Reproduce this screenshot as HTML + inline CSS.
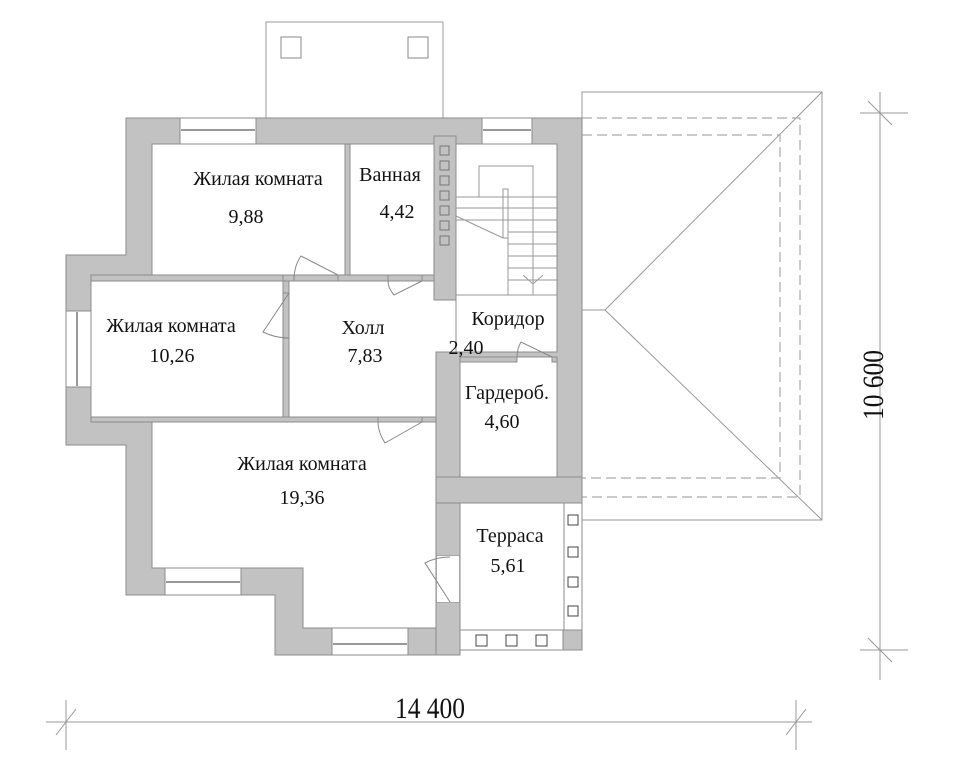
<!DOCTYPE html>
<html><head><meta charset="utf-8"><style>
html,body{margin:0;padding:0;background:#fff;}
svg{display:block;}
text{font-family:"Liberation Serif",serif;fill:#111;}
</style></head><body>
<svg width="960" height="768" viewBox="0 0 960 768" xmlns="http://www.w3.org/2000/svg">
<!-- top balcony box -->
<rect x="266" y="22" width="177" height="96" fill="#fff" stroke="#999" stroke-width="1"/>
<rect x="281" y="37" width="20" height="21" fill="none" stroke="#888"/>
<rect x="408" y="37" width="20" height="21" fill="none" stroke="#888"/>

<!-- roof -->
<g stroke="#999" stroke-width="1" fill="none">
<rect x="582" y="92" width="240" height="428" fill="#fff"/>
<line x1="822" y1="92" x2="605" y2="310"/>
<line x1="822" y1="520" x2="605" y2="310"/>
<line x1="582" y1="310" x2="605" y2="310"/>
</g>
<g stroke="#aaa" stroke-width="1.2" fill="none" stroke-dasharray="10,5">
<polyline points="582,118 800,118 800,497 582,497"/>
<polyline points="582,135 780,135 780,478 582,478"/>
</g>

<g fill="#c2c2c2" stroke="#8c8c8c" stroke-width="1">
<path d="M126,118 H582 V500 H563 V630 H582 V650 H563 V630 H460 V655 H275 V595 H126 V445 H66 V255 H126 Z"/>
</g>
<!-- terrace column strip / bottom band -->
<g fill="#fff" stroke="#8c8c8c" stroke-width="1">
<rect x="563" y="503" width="19" height="127"/>
<rect x="460" y="630" width="103" height="20"/>
</g>
<rect x="563" y="630" width="19" height="20" fill="#c2c2c2" stroke="#8c8c8c"/>
<!-- rooms (white) -->
<g fill="#fff" stroke="#8c8c8c" stroke-width="1">
<rect x="152" y="144" width="193" height="131"/>
<rect x="350" y="144" width="84" height="131"/>
<rect x="456" y="144" width="101" height="208"/>
<rect x="91" y="281" width="192" height="136"/>
<path d="M289,281 H436 V300 H456 V352 H436 V417 H289 Z"/>
<rect x="456" y="357" width="101" height="120"/>
<path d="M152,422 H436 V628 H303 V568 H152 Z"/>
<rect x="460" y="503" width="104" height="127"/>
</g>
<!-- thin interior walls -->
<g fill="#c2c2c2" stroke="#8c8c8c" stroke-width="1">
<rect x="91" y="275" width="192" height="6"/>
<rect x="283" y="275" width="11" height="6"/>
<rect x="283" y="281" width="6" height="12"/>
<rect x="283" y="338" width="6" height="84"/>
<rect x="338" y="275" width="50" height="6"/>
<rect x="345" y="144" width="5" height="131"/>
<rect x="422" y="275" width="14" height="6"/>
<rect x="91" y="417" width="287" height="5"/>
<rect x="422" y="417" width="14" height="5"/>
<rect x="456" y="357" width="61" height="5"/>
<rect x="552" y="357" width="5" height="5"/>
<rect x="436" y="352" width="24" height="204"/>
<rect x="436" y="602" width="24" height="53"/>
<rect x="436" y="477" width="146" height="26"/>
<rect x="434" y="136" width="22" height="164"/>
</g>
<rect x="437" y="556" width="22" height="46" fill="#fff"/>
<!-- vent squares -->
<g fill="none" stroke="#777" stroke-width="1">
<rect x="440" y="146" width="9" height="9"/><rect x="440" y="161" width="9" height="9"/>
<rect x="440" y="176" width="9" height="9"/><rect x="440" y="191" width="9" height="9"/>
<rect x="440" y="206" width="9" height="9"/><rect x="440" y="221" width="9" height="9"/>
<rect x="440" y="236" width="9" height="9"/>
</g>
<!-- stairs -->
<g stroke="#999" stroke-width="1" fill="none">
<polyline points="479,197 479,166 533,166 533,295"/>
<line x1="456" y1="295" x2="557" y2="295"/>
<line x1="456" y1="197" x2="557" y2="197"/>
<line x1="456" y1="208" x2="557" y2="208"/>
<line x1="456" y1="220" x2="557" y2="220"/>
<line x1="508" y1="232" x2="557" y2="232"/>
<line x1="508" y1="244" x2="557" y2="244"/>
<line x1="508" y1="256" x2="557" y2="256"/>
<line x1="508" y1="268" x2="557" y2="268"/>
<line x1="508" y1="280" x2="557" y2="280"/>
<line x1="456" y1="216" x2="503" y2="238"/>
<rect x="503" y="189" width="5" height="49"/>
<polyline points="523,275 533,284 543,275"/>
<line x1="508" y1="238" x2="508" y2="295"/>
</g>
<!-- windows -->
<g fill="#fff" stroke="#8c8c8c" stroke-width="1">
<rect x="180" y="118" width="76" height="26"/>
<rect x="482" y="118" width="50" height="26"/>
<rect x="66" y="311" width="25" height="76"/>
<rect x="165" y="568" width="76" height="27"/>
<rect x="332" y="628" width="76" height="27"/>
</g>
<g stroke="#999" stroke-width="2" fill="none">
<line x1="181" y1="130" x2="255" y2="130"/>
<line x1="483" y1="130" x2="531" y2="130"/>
<line x1="77" y1="312" x2="77" y2="386"/>
<line x1="166" y1="582" x2="240" y2="582"/>
<line x1="333" y1="644" x2="407" y2="644"/>
</g>
<!-- terrace columns -->
<g fill="#fff" stroke="#444" stroke-width="1">
<rect x="568" y="515" width="10" height="10"/>
<rect x="568" y="547" width="10" height="10"/>
<rect x="568" y="577" width="10" height="10"/>
<rect x="568" y="606" width="10" height="10"/>
<rect x="476" y="635" width="11" height="11"/>
<rect x="506" y="635" width="11" height="11"/>
<rect x="536" y="635" width="11" height="11"/>
</g>
<!-- doors -->
<g stroke="#888" stroke-width="1" fill="none">
<path d="M338,275 L301,256 Q294,266 294,280"/>
<path d="M289,293 L263,332 Q275,338 289,338"/>
<path d="M422,281 L394,295 Q388,288 388,281"/>
<path d="M422,422 L385,443 Q378,432 378,422"/>
<path d="M552,357 L521,342 Q517,349 517,357"/>
<path d="M450,602 L425,563 Q436,557 450,557"/>
</g>
<!-- labels -->
<g font-size="20" text-anchor="middle">
<text x="258" y="185">Жилая комната</text>
<text x="246" y="223">9,88</text>
<text x="390" y="181">Ванная</text>
<text x="397" y="218">4,42</text>
<text x="171" y="332">Жилая комната</text>
<text x="172" y="362">10,26</text>
<text x="363" y="334">Холл</text>
<text x="365" y="362">7,83</text>
<text x="508" y="325">Коридор</text>
<text x="466" y="354">2,40</text>
<text x="507" y="399">Гардероб.</text>
<text x="502" y="428">4,60</text>
<text x="302" y="470">Жилая комната</text>
<text x="302" y="504">19,36</text>
<text x="510" y="542">Терраса</text>
<text x="508" y="572">5,61</text>
</g>
<!-- dimensions -->
<g stroke="#999" stroke-width="1" fill="none">
<line x1="46" y1="722" x2="812" y2="722"/>
<line x1="66" y1="700" x2="66" y2="750"/>
<line x1="796" y1="700" x2="796" y2="750"/>
<line x1="56" y1="735" x2="76" y2="709"/>
<line x1="786" y1="735" x2="806" y2="709"/>
<line x1="880" y1="92" x2="880" y2="680"/>
<line x1="860" y1="113" x2="908" y2="113"/>
<line x1="860" y1="650" x2="908" y2="650"/>
<line x1="868" y1="101" x2="892" y2="125"/>
<line x1="868" y1="638" x2="892" y2="662"/>
</g>
<text x="430" y="718" font-size="30" text-anchor="middle" transform="translate(430 0) scale(0.85 1) translate(-430 0)">14 400</text>
<text x="0" y="0" font-size="30" text-anchor="middle" transform="translate(883 385) rotate(-90) scale(0.85 1)">10 600</text>
</svg>
</body></html>
